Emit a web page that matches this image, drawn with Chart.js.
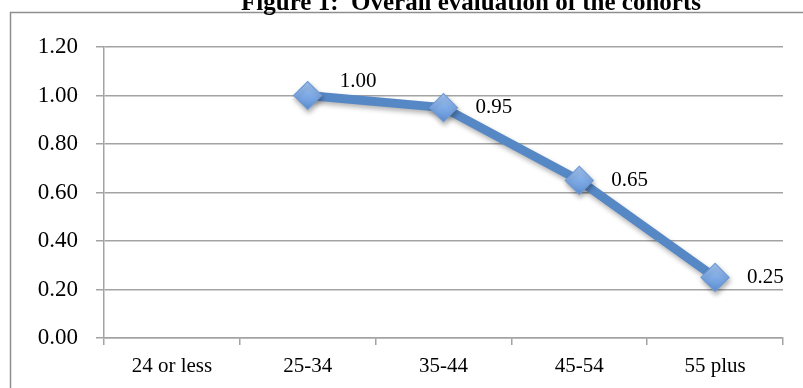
<!DOCTYPE html>
<html>
<head>
<meta charset="utf-8">
<script src="https://cdn.jsdelivr.net/npm/chart.js@4/dist/chart.umd.min.js"></script>
<style>
  html, body { margin: 0; padding: 0; background: #fff; }
  #wrap { position: relative; width: 803px; height: 388px; overflow: hidden; }
  canvas { display: block; }
</style>
</head>
<body>
<div id="wrap"><canvas id="c" width="803" height="388"></canvas></div>
<script>
// Age cohorts and their overall evaluation score
const cohorts = ['24 or less', '25-34', '35-44', '45-54', '55 plus'];
const evaluation = [null, 1.00, 0.95, 0.65, 0.25];
const yTicks = [0, 0.2, 0.4, 0.6, 0.8, 1.0, 1.2];

const titleText = 'Figure 1:  Overall evaluation of the cohorts';
const serif = '"Liberation Serif", "DejaVu Serif", serif';
const lineBlue = '#5788c6';

// Frame around the plot and the heading sitting on top of it
const framePlugin = {
  id: 'frame',
  beforeDraw(chart) {
    const ctx = chart.ctx;
    ctx.save();
    ctx.fillStyle = '#fff';
    ctx.fillRect(0, 0, chart.width, chart.height);
    ctx.strokeStyle = '#8e8e8e';
    ctx.lineWidth = 1.5;
    ctx.beginPath();
    ctx.moveTo(10.5, chart.height + 2);
    ctx.lineTo(10.5, 12.5);
    ctx.lineTo(chart.width + 2, 12.5);
    ctx.stroke();
    ctx.fillStyle = '#000';
    ctx.font = 'bold 25px ' + serif;
    ctx.textAlign = 'center';
    ctx.textBaseline = 'alphabetic';
    ctx.fillText(titleText, 471, 10);
    ctx.restore();
  }
};

// Soft shadow under the line and markers
const shadowPlugin = {
  id: 'lineShadow',
  beforeDatasetDraw(chart) {
    const ctx = chart.ctx;
    ctx.save();
    ctx.shadowColor = 'rgba(0,0,0,0.30)';
    ctx.shadowBlur = 5;
    ctx.shadowOffsetX = 1;
    ctx.shadowOffsetY = 3;
  },
  afterDatasetDraw(chart) {
    chart.ctx.restore();
  }
};

// Value labels written to the right of each marker
const valueLabels = {
  id: 'valueLabels',
  afterDatasetsDraw(chart, args, opts) {
    const ctx = chart.ctx;
    const meta = chart.getDatasetMeta(0);
    const data = chart.data.datasets[0].data;
    ctx.save();
    ctx.fillStyle = '#000';
    ctx.font = opts.size + 'px ' + serif;
    ctx.textAlign = 'left';
    ctx.textBaseline = 'middle';
    meta.data.forEach((pt, i) => {
      const v = data[i];
      if (v === null || v === undefined) return;
      const lift = (opts.lift && opts.lift[i]) || 0;
      ctx.fillText(v.toFixed(2), pt.x + opts.gap, pt.y - lift);
    });
    ctx.restore();
  }
};

function markerFill(context) {
  const chart = context.chart;
  const el = context.element;
  if (!el || el.y === undefined) return '#79a6e0';
  const g = chart.ctx.createLinearGradient(0, el.y - 14, 0, el.y + 14);
  g.addColorStop(0, '#a6c7f3');
  g.addColorStop(0.5, '#7fabe6');
  g.addColorStop(1, '#5e90d4');
  return g;
}

new Chart(document.getElementById('c'), {
  type: 'line',
  data: {
    labels: cohorts,
    datasets: [{
      data: evaluation,
      borderColor: lineBlue,
      borderWidth: 9,
      borderJoinStyle: 'round',
      tension: 0,
      spanGaps: false,
      pointStyle: 'rectRot',
      pointRadius: 14,
      pointHoverRadius: 14,
      pointBorderWidth: 1.2,
      pointBorderColor: '#6f9ad6',
      pointBackgroundColor: markerFill,
      fill: false
    }]
  },
  options: {
    responsive: false,
    devicePixelRatio: 1,
    animation: false,
    events: [],
    layout: { padding: { left: 10, right: 20, top: 47, bottom: 0 } },
    plugins: {
      legend: { display: false },
      tooltip: { enabled: false },
      title: { display: false },
      valueLabels: { size: 21, gap: 32, lift: [0, 14, 0, 0, 0] }
    },
    scales: {
      x: {
        type: 'category',
        offset: true,
        afterFit(scale) { scale.height = 50; },
        grid: {
          offset: true,
          drawOnChartArea: false,
          drawTicks: true,
          tickLength: 7,
          color: '#a3a3a3',
          lineWidth: 1.5
        },
        border: { display: true, color: '#a3a3a3', width: 1.5 },
        ticks: {
          color: '#000',
          font: { family: serif, size: 21 },
          padding: 9,
          maxRotation: 0
        }
      },
      y: {
        min: 0,
        max: 1.2,
        afterFit(scale) { scale.width = 94; },
        afterBuildTicks(scale) { scale.ticks = yTicks.map(v => ({ value: v })); },
        grid: {
          drawOnChartArea: true,
          drawTicks: true,
          tickLength: 8,
          color: '#a3a3a3',
          lineWidth: 1.5
        },
        border: { display: true, color: '#a3a3a3', width: 1.5 },
        ticks: {
          color: '#000',
          font: { family: serif, size: 23 },
          padding: 18,
          callback: v => Number(v).toFixed(2)
        }
      }
    }
  },
  plugins: [framePlugin, shadowPlugin, valueLabels]
});
</script>
</body>
</html>
